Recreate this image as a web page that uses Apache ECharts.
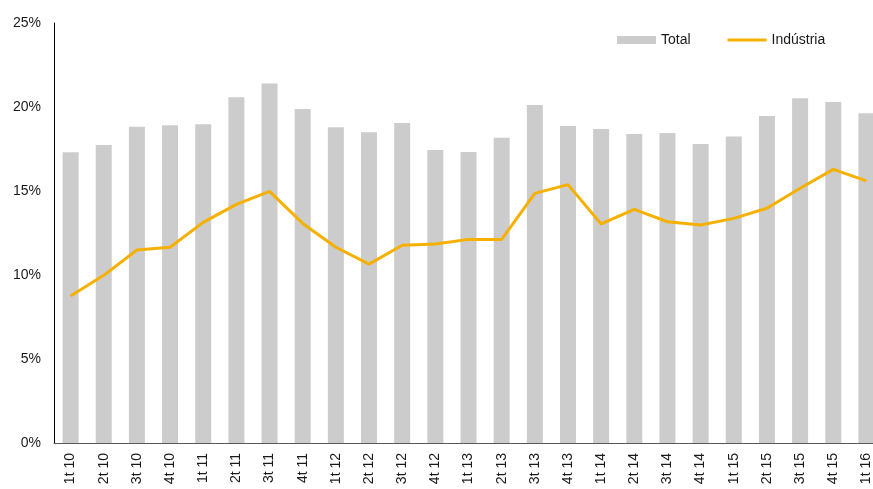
<!DOCTYPE html>
<html>
<head>
<meta charset="utf-8">
<script src="https://cdn.jsdelivr.net/npm/echarts@6/dist/echarts.min.js"></script>
<style>
html,body{margin:0;padding:0;background:#fff;}
#c{width:873px;height:489px;}
</style>
</head>
<body>
<div id="c"></div>
<script>
var categories = ['1t 10','2t 10','3t 10','4t 10','1t 11','2t 11','3t 11','4t 11','1t 12','2t 12','3t 12','4t 12','1t 13','2t 13','3t 13','4t 13','1t 14','2t 14','3t 14','4t 14','1t 15','2t 15','3t 15','4t 15','1t 16'];
var totalValues = [17.3,17.74,18.82,18.92,18.97,20.58,21.4,19.88,18.8,18.5,19.05,17.44,17.32,18.17,20.12,18.87,18.69,18.39,18.45,17.8,18.24,19.47,20.52,20.3,19.63];
var industriaValues = [8.75,9.98,11.49,11.65,13.13,14.2,14.98,13.07,11.65,10.65,11.77,11.85,12.12,12.12,14.86,15.38,13.04,13.91,13.17,12.98,13.37,13.97,15.16,16.29,15.6];
var yTicks = {min:0, max:25, interval:5};

var font = '"Liberation Sans", Arial, sans-serif';
var chart = echarts.init(document.getElementById('c'), null, {renderer:'canvas'});
chart.setOption({
  animation:false,
  backgroundColor:'#ffffff',
  textStyle:{fontFamily:font},
  legend:{
    top:33,
    left:617,
    padding:0,
    itemWidth:39,
    itemHeight:8,
    itemGap:37,
    symbolKeepAspect:true,
    textStyle:{fontFamily:font, fontSize:14, color:'#1a1a1a'},
    data:[
      {name:'Total', icon:'rect'},
      {name:'Indústria', icon:'path://M0,0L40,0L40,3.2L0,3.2Z'}
    ]
  },
  grid:{left:54, width:829, top:23, bottom:46, containLabel:false, outerBoundsMode:'none'},
  xAxis:{
    type:'category',
    data:categories,
    axisLine:{lineStyle:{color:'#595959', width:1}},
    axisTick:{show:false},
    axisLabel:{rotate:90, margin:10, fontSize:14, color:'#1a1a1a', fontFamily:font, interval:0}
  },
  yAxis:{
    type:'value',
    min:yTicks.min, max:yTicks.max, interval:yTicks.interval,
    axisLine:{show:true, lineStyle:{color:'#000000', width:1}},
    axisTick:{show:false},
    splitLine:{show:false},
    axisLabel:{formatter:'{value}%', margin:13, fontSize:14, color:'#1a1a1a', fontFamily:font}
  },
  series:[
    {
      name:'Total',
      type:'bar',
      data:totalValues,
      barWidth:16,
      itemStyle:{color:'#cccccc'}
    },
    {
      name:'Indústria',
      type:'line',
      data:industriaValues,
      symbol:'none',
      lineStyle:{color:'#f5b000', width:3},
      itemStyle:{color:'#f5b000'}
    }
  ]
});
</script>
</body>
</html>
